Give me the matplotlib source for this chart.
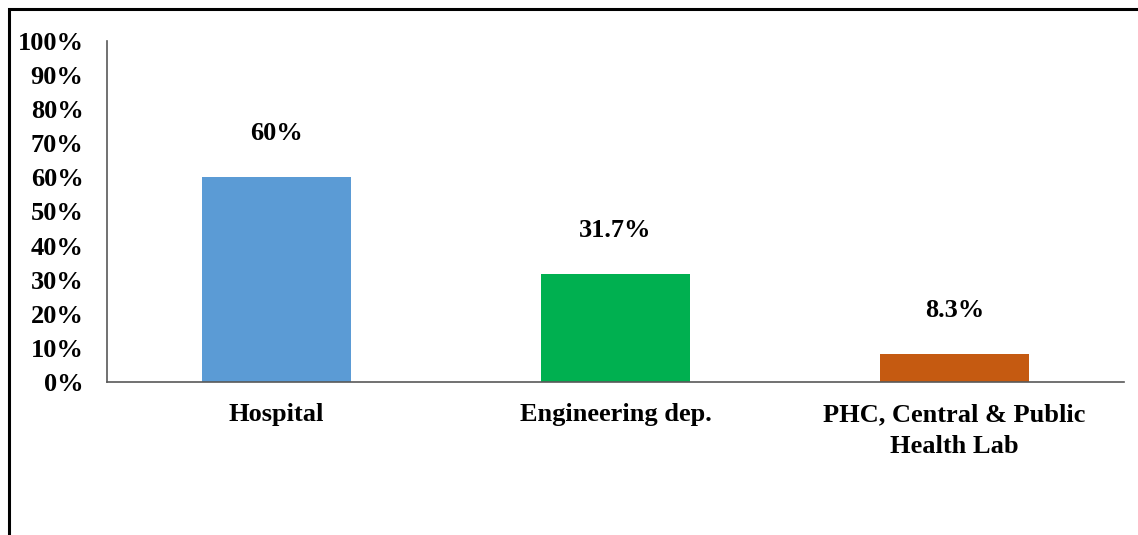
import matplotlib.pyplot as plt
from matplotlib.patches import Rectangle

categories = ["Hospital", "Engineering dep.", "PHC, Central & Public\nHealth Lab"]
shares = [60, 31.7, 8.3]
value_labels = ["60%", "31.7%", "8.3%"]
bar_colors = ["#5B9BD5", "#00B050", "#C55A11"]
yticks = list(range(0, 101, 10))

plt.rcParams['font.family'] = ['Liberation Serif', 'DejaVu Serif']
plt.rcParams['font.weight'] = 'bold'

W, H = 1138, 535
fs = 19
fig = plt.figure(figsize=(W / 100, H / 100), dpi=100)
ax = fig.add_axes([107 / W, 1 - 382 / H, (1124 - 107) / W, (382 - 41) / H])

x = range(len(categories))
ax.bar(x, shares, width=0.44, color=bar_colors)
for i, (v, lab) in enumerate(zip(shares, value_labels)):
    ax.annotate(lab, (i, v), xytext=(0, 32), textcoords='offset pixels',
                ha='center', va='bottom', fontsize=fs, fontweight='bold')

ax.set_xlim(-0.5, len(categories) - 0.5)
ax.set_ylim(0, 100)
ax.set_yticks(yticks)
ax.set_yticklabels([f"{t}%" for t in yticks], fontsize=fs, fontweight='bold')
ax.set_xticks(list(x))
ax.set_xticklabels(categories, fontsize=fs, fontweight='bold', linespacing=1.5)
ax.tick_params(length=0)
ax.tick_params(axis='y', pad=17)
ax.tick_params(axis='x', pad=15)

for side in ['top', 'right']:
    ax.spines[side].set_visible(False)
for side in ['left', 'bottom']:
    ax.spines[side].set_color('#595959')
    ax.spines[side].set_linewidth(1.2)

# outer frame (open at right and bottom edges)
fig.patches.append(Rectangle((8.5 / W, -0.2), 1.2, 1.2 - 8.5 / H,
                             transform=fig.transFigure, fill=False,
                             edgecolor='black', linewidth=2.2))

fig.savefig("out.png", dpi=100)
